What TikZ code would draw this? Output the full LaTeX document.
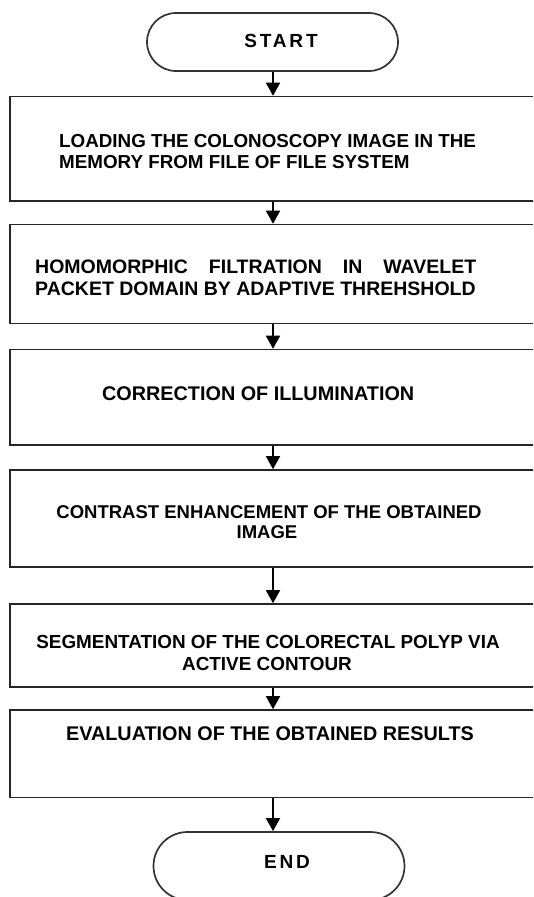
\documentclass[tikz,border=0pt]{standalone}
\usepackage{fontspec}
\setmainfont{Liberation Sans}
\newfontfamily\spacedfont[LetterSpace=15]{Liberation Sans}
\usetikzlibrary{arrows.meta}
\begin{document}
\begin{tikzpicture}[x=1pt,y=-1pt,
  box/.style={draw=black!85, line width=1.6pt, minimum width=535pt, inner sep=0pt},
  term/.style={draw=black!80, line width=1.7pt, minimum width=251pt, inner sep=0pt},
  txt/.style={font=\fontsize{#1}{21}\selectfont\bfseries, text=black, inner sep=0pt},
  txt/.default=18.5,
  arr/.style={line width=1.5pt, draw=black, -{Triangle[width=14pt,length=13pt]}}]
\clip (0,0) rectangle (533,897);
\fill[white] (0,0) rectangle (533,897);
\coordinate (ax) at (273,0);
% terminals
\node[term, minimum height=58pt, rounded corners=29pt] (start) at (272.5,42) {};
\node[txt=19, anchor=base] (startt) at (281,47.5) {\spacedfont START};
\node[term, minimum height=68pt, rounded corners=34pt] (stop) at (279,866) {};
\node[txt=19, anchor=base] (stopt) at (287,868.5) {\spacedfont END};
% process boxes
\node[box, minimum height=104.5pt] (b1) at (277.5,148.75) {};
\node[box, minimum height=99pt] (b2) at (277.5,274) {};
\node[box, minimum height=95.5pt] (b3) at (277.5,397.25) {};
\node[box, minimum height=97pt] (b4) at (277.5,518.5) {};
\node[box, minimum height=83pt] (b5) at (277.5,645.5) {};
\node[box, minimum height=87.5pt] (b6) at (277.5,753.75) {};
% texts
\node[txt=18.8, anchor=base west] (t1a) at (59,147.5) {LOADING THE COLONOSCOPY IMAGE IN THE};
\node[txt=18.8, anchor=base west] (t1b) at (59,168.5) {MEMORY FROM FILE OF FILE SYSTEM};
\node[txt=19.5, anchor=base west] (t2a) at (35,273.5) {\makebox[441pt][s]{HOMOMORPHIC FILTRATION IN WAVELET}};
\node[txt=19.5, anchor=base west] (t2b) at (35,295.5) {PACKET DOMAIN BY ADAPTIVE THREHSHOLD};
\node[txt=19.8, anchor=base west] (t3) at (102,400) {CORRECTION OF ILLUMINATION};
\node[txt=18.5, anchor=base] (t4a) at (269,518.5) {CONTRAST ENHANCEMENT OF THE OBTAINED};
\node[txt=18.5, anchor=base] (t4b) at (267,538.5) {IMAGE};
\node[txt=18.9, anchor=base] (t5a) at (268,648.5) {SEGMENTATION OF THE COLORECTAL POLYP VIA};
\node[txt=18.9, anchor=base] (t5b) at (267,670.5) {ACTIVE CONTOUR};
\node[txt=19.8, anchor=base] (t6) at (270,740) {EVALUATION OF THE OBTAINED RESULTS};
% connectors
\draw[arr] (start.south -| ax) -- (b1.north -| ax);
\draw[arr] (b1.south -| ax) -- (b2.north -| ax);
\draw[arr] (b2.south -| ax) -- (b3.north -| ax);
\draw[arr] (b3.south -| ax) -- (b4.north -| ax);
\draw[arr] (b4.south -| ax) -- (b5.north -| ax);
\draw[arr] (b5.south -| ax) -- (b6.north -| ax);
\draw[arr] (b6.south -| ax) -- (stop.north -| ax);
\end{tikzpicture}
\end{document}
